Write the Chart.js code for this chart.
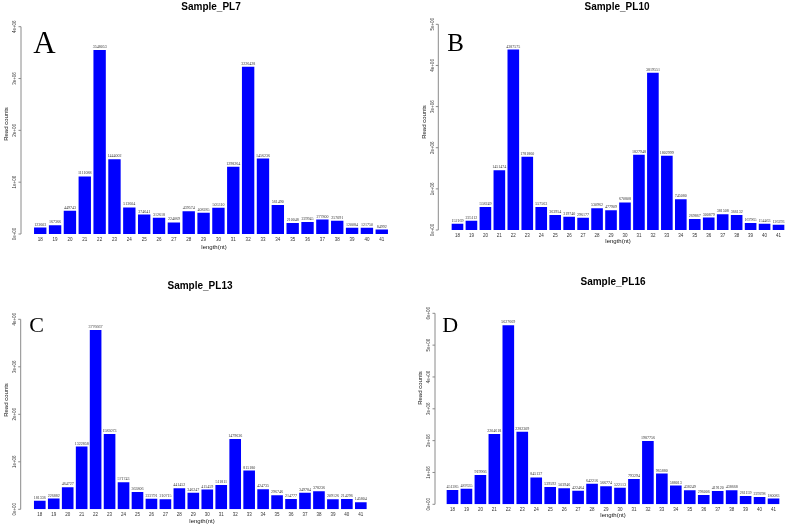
<!DOCTYPE html>
<html>
<head>
<meta charset="utf-8">
<script src="https://cdn.jsdelivr.net/npm/chart.js@4.4.1/dist/chart.umd.min.js"></script>
<style>
html,body{margin:0;padding:0;background:#fff;}
body{width:787px;height:527px;position:relative;overflow:hidden;}
canvas{position:absolute;}
</style>
</head>
<body>
<canvas id="cA" width="393" height="263" style="left:0px;top:0px"></canvas>
<canvas id="cB" width="393" height="263" style="left:394px;top:0px"></canvas>
<canvas id="cC" width="393" height="263" style="left:0px;top:264px"></canvas>
<canvas id="cD" width="393" height="263" style="left:394px;top:264px"></canvas>
<script>
// ---- data ----
const categories = ['18','19','20','21','22','23','24','25','26','27','28','29','30','31','32','33','34','35','36','37','38','39','40','41'];
const pl7  = [123603,167366,449743,1111088,3548053,1444002,513604,374641,312618,224069,439574,408285,505310,1298264,3226428,1456236,561490,210048,229945,277800,257091,120084,121750,84992];
const pl10 = [152169,225112,558249,1451474,4387575,1781860,557563,363954,319740,296177,530962,477909,670808,1827948,3819551,1802999,745080,269867,300879,381508,366132,167965,154463,126293];
const pl13 = [181336,226882,464727,1322858,3776667,1583073,571743,363806,222791,210715,441452,346247,415459,511811,1479636,815180,424735,296746,214777,349784,378236,209126,214296,145804];
const pl16 = [451285,487635,919966,2204618,5627669,2282309,845137,539592,503946,422464,642216,566774,522113,793294,1987756,965880,588013,438249,296006,419120,438668,261159,229298,180083];
const ticks4 = ['0e+00','1e+06','2e+06','3e+06','4e+06'];
const ticks5 = ['0e+00','1e+06','2e+06','3e+06','4e+06','5e+06'];
const ticks6 = ['0e+00','1e+06','2e+06','3e+06','4e+06','5e+06','6e+06'];
const titles = ['Sample_PL7','Sample_PL10','Sample_PL13','Sample_PL16'];
const letters = ['A','B','C','D'];

// ---- layout (positions only) ----
const W = 393, H = 263, XH = 10;
const panels = [
  {id:'cA', data:pl7,  ticks:ticks4, L:32.8, R:389.2, T:26.7, B:234,   axisX:21,   tickX:14.5, yTitleX:6,    yTitleY:124, titleX:211, titleY:7,    letterX:33.3, letterY:53,   letterSize:31, xTitleX:214, xTitleY:247},
  {id:'cB', data:pl10, ticks:ticks5, L:56.5, R:391.5, T:24.3, B:230,   axisX:44.3, tickX:38.3, yTitleX:30.3, yTitleY:122, titleX:223, titleY:7.3,  letterX:53.3, letterY:51,   letterSize:25, xTitleX:224, xTitleY:241.7},
  {id:'cC', data:pl13, ticks:ticks4, L:32.8, R:367.8, T:55.3, B:245.3, axisX:20.7, tickX:14.5, yTitleX:6,    yTitleY:136, titleX:200, titleY:22.7, letterX:29.3, letterY:67.7, letterSize:22, xTitleX:202, xTitleY:257.7},
  {id:'cD', data:pl16, ticks:ticks6, L:51.5, R:386.5, T:49.3, B:240.3, axisX:41,   tickX:34.5, yTitleX:26,   yTitleY:124, titleX:219, titleY:18.3, letterX:48.3, letterY:68.3, letterSize:22, xTitleX:219, xTitleY:251.7}
];

const SANS = '"Liberation Sans", Arial, Helvetica, sans-serif';
const SERIF = '"Liberation Serif", "Times New Roman", serif';

panels.forEach((p, idx) => {
  const tickVals = p.ticks.map(t => Number(t));
  const yMax = tickVals[tickVals.length - 1];
  const decor = {
    id: 'decor' + idx,
    afterDatasetsDraw(chart) {
      const ctx = chart.ctx;
      const y = chart.scales.y;
      const meta = chart.getDatasetMeta(0);
      ctx.save();
      // value labels above bars
      ctx.fillStyle = '#333';
      ctx.font = '4px ' + SERIF;
      ctx.textAlign = 'center';
      ctx.textBaseline = 'bottom';
      meta.data.forEach((bar, i) => {
        ctx.fillText(String(p.data[i]), bar.x, bar.y - 1);
      });
      // y axis line and ticks
      ctx.strokeStyle = '#8a8a8a';
      ctx.lineWidth = 1;
      ctx.beginPath();
      ctx.moveTo(p.axisX, y.getPixelForValue(0));
      ctx.lineTo(p.axisX, y.getPixelForValue(yMax));
      tickVals.forEach(v => {
        const py = y.getPixelForValue(v);
        ctx.moveTo(p.axisX, py);
        ctx.lineTo(p.axisX - 2.5, py);
      });
      ctx.stroke();
      // y tick labels (rotated)
      ctx.fillStyle = '#333';
      ctx.font = '4.5px ' + SANS;
      ctx.textAlign = 'center';
      ctx.textBaseline = 'middle';
      p.ticks.forEach((t, i) => {
        const py = y.getPixelForValue(tickVals[i]);
        ctx.save();
        ctx.translate(p.tickX, py);
        ctx.rotate(-Math.PI / 2);
        ctx.fillText(t, 0, 0);
        ctx.restore();
      });
      // y title
      ctx.fillStyle = '#111';
      ctx.font = '6px ' + SANS;
      ctx.save();
      ctx.translate(p.yTitleX, p.yTitleY);
      ctx.rotate(-Math.PI / 2);
      ctx.fillText('Read counts', 0, 0);
      ctx.restore();
      // x title
      ctx.fillText('length(nt)', p.xTitleX, p.xTitleY);
      // main title
      ctx.fillStyle = '#000';
      ctx.font = 'bold 10px ' + SANS;
      ctx.fillText(titles[idx], p.titleX, p.titleY);
      // panel letter
      ctx.font = p.letterSize + 'px ' + SERIF;
      ctx.textAlign = 'left';
      ctx.textBaseline = 'alphabetic';
      ctx.fillText(letters[idx], p.letterX, p.letterY);
      ctx.restore();
    }
  };
  new Chart(document.getElementById(p.id), {
    type: 'bar',
    data: {
      labels: categories,
      datasets: [{
        data: p.data,
        backgroundColor: '#0000FF',
        borderWidth: 0,
        barPercentage: 1,
        categoryPercentage: 1 / 1.2
      }]
    },
    options: {
      responsive: false,
      animation: false,
      devicePixelRatio: 1,
      layout: { padding: { left: p.L, right: W - p.R, top: p.T, bottom: H - p.B - XH } },
      plugins: { legend: { display: false }, tooltip: { enabled: false }, title: { display: false } },
      scales: {
        x: {
          grid: { display: false, drawTicks: false },
          border: { display: false },
          ticks: { font: { size: 4.5, family: SANS }, color: '#333', padding: 3, maxRotation: 0, autoSkip: false },
          afterFit: s => { s.height = XH; }
        },
        y: { display: false, min: 0, max: yMax }
      }
    },
    plugins: [decor]
  });
});
</script>
</body>
</html>
